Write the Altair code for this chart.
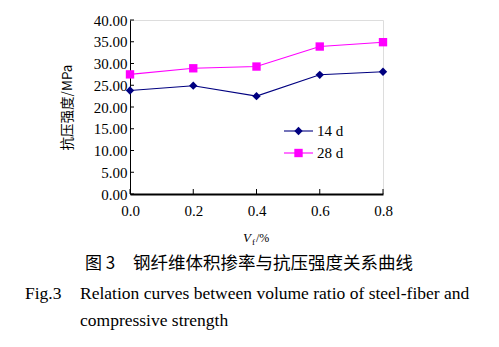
import altair as alt
import pandas as pd

vf = [0.0, 0.2, 0.4, 0.6, 0.8]
s14 = [23.8, 24.9, 22.5, 27.4, 28.1]
s28 = [27.5, 28.9, 29.3, 33.9, 34.9]
series_names = ["14 d", "28 d"]
series_colors = ["#000080", "#FF00FF"]
series_shapes = ["diamond", "square"]
y_ticks = [0, 5, 10, 15, 20, 25, 30, 35, 40]
x_ticks = [0.0, 0.2, 0.4, 0.6, 0.8]
y_title = "抗压强度/MPa"
cap_cn_a = "图 3"
cap_cn_b = "钢纤维体积掺率与抗压强度关系曲线"
cap_en_a = "Fig.3"
cap_en_b = "Relation curves between volume ratio of steel-fiber and"
cap_en_c = "compressive strength"

df = pd.DataFrame({
    "vf": vf * 2,
    "val": s14 + s28,
    "series": [series_names[0]] * len(vf) + [series_names[1]] * len(vf),
})

W, H = 253, 174
SERIF = "Liberation Serif"
CJK = "Noto Sans CJK SC"

xs = alt.Scale(domain=[0, 0.8], nice=False, zero=False)
ys = alt.Scale(domain=[0, 40], nice=False)


def cs():
    return alt.Scale(domain=series_names, range=series_colors)


AX_X = alt.Axis(values=x_ticks, format=".1f", labelPadding=9, domainWidth=2.2,
                domainColor="black", labelFlush=False, labelOverlap=False,
                labelFont=SERIF, labelFontSize=15, labelColor="black",
                ticks=False, grid=False, title=None)
AX_Y = alt.Axis(values=y_ticks, format=".2f", labelPadding=3, domainWidth=1,
                domainColor="black", labelFlush=False, labelOverlap=False,
                labelFont=SERIF, labelFontSize=15, labelColor="black",
                ticks=False, grid=False,
                title=y_title, titleFont=CJK, titleFontSize=13.5,
                titleFontWeight="normal", titleColor="black", titlePadding=19)


def X(f):
    return alt.X(f, scale=xs, axis=AX_X, title=None)


def Y(f):
    return alt.Y(f, scale=ys, axis=AX_Y, title=y_title)


base = alt.Chart(df)

lines = base.mark_line(strokeWidth=1.1).encode(
    x=X("vf:Q"), y=Y("val:Q"),
    stroke=alt.Stroke("series:N", scale=cs(), legend=None),
    detail="series:N",
)

pt_layers = []
for name, shp in zip(series_names, series_shapes):
    pt_layers.append(
        base.transform_filter(alt.datum.series == name)
        .mark_point(filled=True, opacity=1, size=70, shape=shp)
        .encode(x=X("vf:Q"), y=Y("val:Q"),
                fill=alt.Fill("series:N", scale=cs(), legend=None))
    )

ytick_df = pd.DataFrame({"vf": [0.0] * len(y_ticks), "val": y_ticks})
xtick_df = pd.DataFrame({"vf": x_ticks, "val": [0.0] * len(x_ticks)})
yticks = alt.Chart(ytick_df).mark_rule(color="black", strokeWidth=1).encode(
    y=Y("val:Q"), x=alt.value(0), x2=alt.value(4))
xticks = alt.Chart(xtick_df).mark_rule(color="black", strokeWidth=1).encode(
    x=X("vf:Q"), y=alt.value(H), y2=alt.value(H - 5))


def txt(s, x, y, font, size, italic=False, align="left"):
    return alt.Chart(pd.DataFrame({"s": [s]})).mark_text(
        font=font, fontSize=size, color="black", align=align, baseline="middle",
        fontStyle="italic" if italic else "normal").encode(
        text="s:N", x=alt.value(x), y=alt.value(y))


# legend (guide drawn inside the plot)
legend_layers = []
LEG_X0, LEG_X1, LEG_Y0, LEG_DY = 154, 183, 111, 22
for i, (name, col, shp) in enumerate(zip(series_names, series_colors, series_shapes)):
    yy = LEG_Y0 + LEG_DY * i
    one = alt.Chart(pd.DataFrame({"s": [name]}))
    legend_layers.append(one.mark_rule(color=col, strokeWidth=1.1).encode(
        x=alt.value(LEG_X0), x2=alt.value(LEG_X1), y=alt.value(yy)))
    legend_layers.append(one.mark_point(filled=True, opacity=1, size=70, shape=shp,
                                        color=col).encode(
        x=alt.value((LEG_X0 + LEG_X1) / 2), y=alt.value(yy)))
    legend_layers.append(txt(name, LEG_X1 + 4, yy, SERIF, 15))

texts = [
    txt("V", 113, 218, SERIF, 13, italic=True),
    txt("f", 122, 222, SERIF, 9),
    txt("/%", 126, 218, SERIF, 12),
    txt(cap_cn_a, -45, 244, CJK, 17),
    txt(cap_cn_b, 3, 244, CJK, 17.5),
    txt(cap_en_a, -105, 274, SERIF, 17.5),
    txt(cap_en_b, -50, 274, SERIF, 17.5),
    txt(cap_en_c, -50, 301, SERIF, 17.5),
]

chart = alt.layer(lines, *pt_layers, yticks, xticks, *legend_layers, *texts).properties(
    width=W, height=H,
    autosize=alt.AutoSizeParams(type="none"),
    padding={"left": 130, "top": 20, "right": 499 - 130 - W, "bottom": 347 - 20 - H},
).configure_view(stroke=None).configure(background="white")

chart.save("out.html", embed_options={"renderer": "svg", "actions": False})
